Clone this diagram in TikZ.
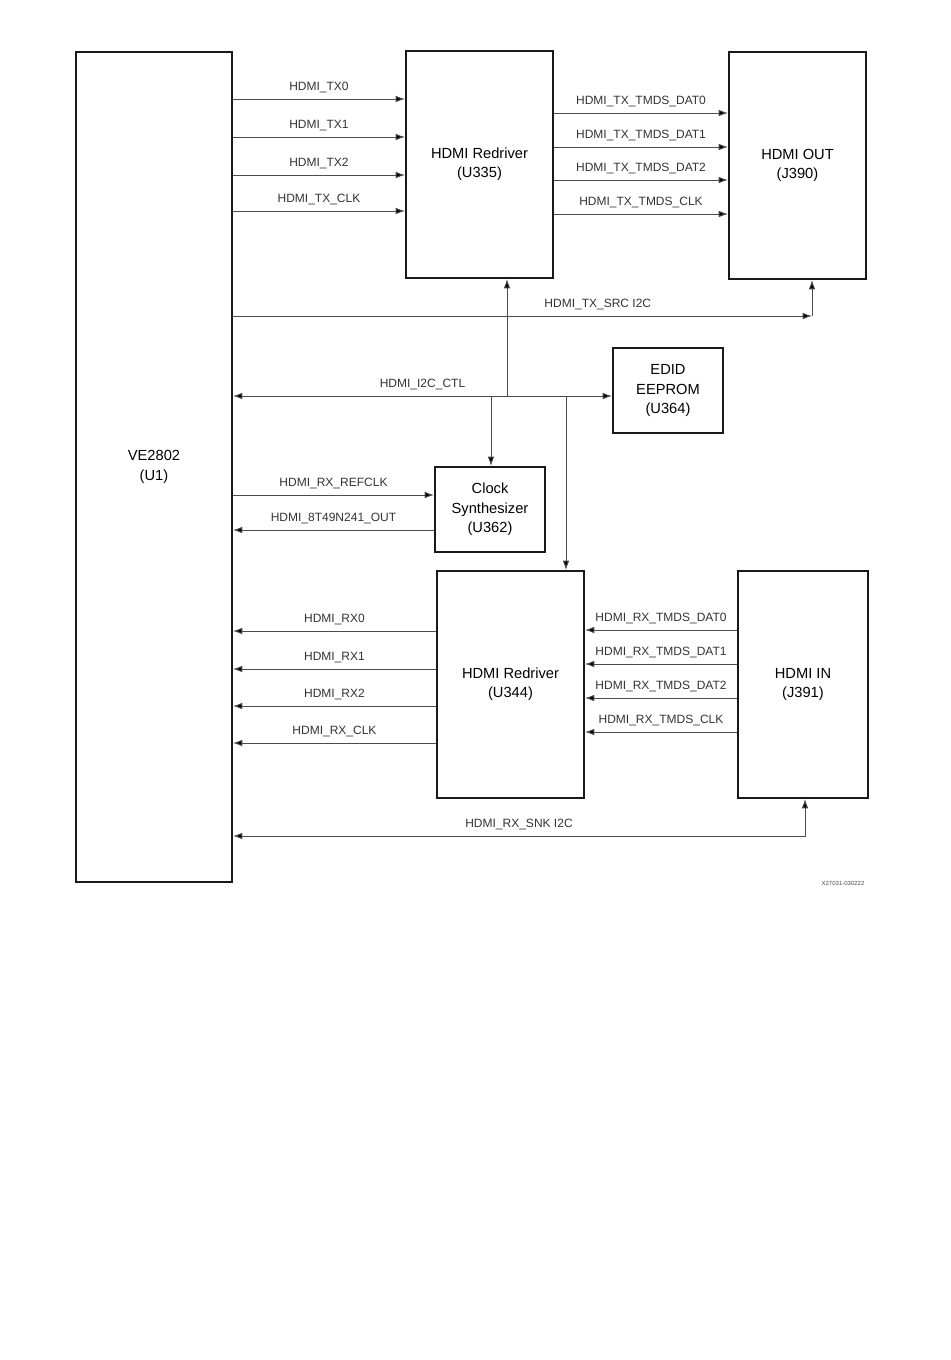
\documentclass[tikz,border=0pt]{standalone}
\usepackage{fontspec}
\setmainfont{Liberation Sans}
\usetikzlibrary{arrows.meta}
\newdimen\px \px=0.75pt

\begin{document}
\begin{tikzpicture}[x=1\px,y=-1\px,>={Latex[length=7pt,width=5pt,fill=black]},draw=black!70,line width=0.7pt]
    \tikzstyle{block}=[draw=black!90,line width=1.5pt,rectangle,align=center,inner sep=0pt,font=\fontsize{11}{14.5}\selectfont]
    \tikzstyle{sig}=[font=\fontsize{9}{10}\selectfont,text=black!80,inner sep=1pt]
    \tikzstyle{annot}=[sig,above=3pt]

    \useasboundingbox (0,0) rectangle (950,1360);

    \node[block,minimum width=156\px,minimum height=830\px] (VE) at (154,467) {VE2802\\(U1)};
    \node[block,minimum width=147\px,minimum height=227\px] (U335) at (479.5,164.5) {HDMI Redriver\\(U335)};
    \node[block,minimum width=137\px,minimum height=227\px] (J390) at (797.5,165.5) {HDMI OUT\\(J390)};
    \node[block,minimum width=110\px,minimum height=85\px] (EDID) at (668,390.5) {EDID\\EEPROM\\(U364)};
    \node[block,minimum width=110\px,minimum height=85\px] (Clk) at (490,509.5) {Clock\\Synthesizer\\(U362)};
    \node[block,minimum width=147\px,minimum height=227\px] (U344) at (510.5,684.5) {HDMI Redriver\\(U344)};
    \node[block,minimum width=130\px,minimum height=227\px] (J391) at (803,684.5) {HDMI IN\\(J391)};

    \foreach \y/\t in {99/HDMI\_TX0,137/HDMI\_TX1,175/HDMI\_TX2,211/HDMI\_TX\_CLK}
        \draw[->] (VE.east |- 0,\y) -- node[annot] {\t} (U335.west |- 0,\y);
    \foreach \y/\t in {113/HDMI\_TX\_TMDS\_DAT0,147/HDMI\_TX\_TMDS\_DAT1,180/HDMI\_TX\_TMDS\_DAT2,214/HDMI\_TX\_TMDS\_CLK}
        \draw[->] (U335.east |- 0,\y) -- node[annot] {\t} (J390.west |- 0,\y);

    \coordinate (src) at (812,316);
    \draw[->] (VE.east |- src) -- node[annot,pos=0.63] {HDMI\_TX\_SRC I2C} (src);
    \draw[->] (src) -- (src |- J390.south);

    \draw[<->] (VE.east |- 0,396) -- node[annot] {HDMI\_I2C\_CTL} (EDID.west |- 0,396);
    \coordinate (tapA) at (507,396);
    \coordinate (tapB) at (491,396);
    \coordinate (tapC) at (566,396);
    \draw[->] (tapA) -- (tapA |- U335.south);
    \draw[->] (tapB) -- (tapB |- Clk.north);
    \draw[->] (tapC) -- (tapC |- U344.north);

    \draw[->] (VE.east |- 0,495) -- node[annot] {HDMI\_RX\_REFCLK} (Clk.west |- 0,495);
    \draw[->] (Clk.west |- 0,530) -- node[annot] {HDMI\_8T49N241\_OUT} (VE.east |- 0,530);

    \foreach \y/\t in {631/HDMI\_RX0,669/HDMI\_RX1,706/HDMI\_RX2,743/HDMI\_RX\_CLK}
        \draw[->] (U344.west |- 0,\y) -- node[annot] {\t} (VE.east |- 0,\y);
    \foreach \y/\t in {630/HDMI\_RX\_TMDS\_DAT0,664/HDMI\_RX\_TMDS\_DAT1,698/HDMI\_RX\_TMDS\_DAT2,732/HDMI\_RX\_TMDS\_CLK}
        \draw[->] (J391.west |- 0,\y) -- node[annot] {\t} (U344.east |- 0,\y);

    \coordinate (snk) at (805,836);
    \draw[<->] (VE.east |- snk) -- node[annot] {HDMI\_RX\_SNK I2C} (snk) -- (snk |- J391.south);

    \node[font=\fontsize{4.5}{5}\selectfont,text=black!70] (fig) at (843,883) {X27031-030222};
\end{tikzpicture}
\end{document}
